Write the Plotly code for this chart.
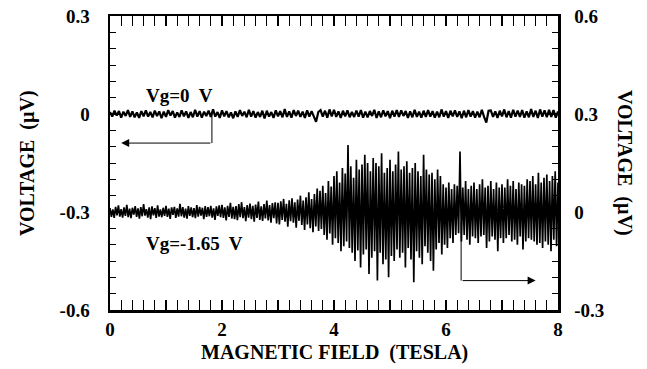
import numpy as np
import plotly.graph_objects as go

# ---------------- data ----------------
field_min_T = 0.0
field_max_T = 8.0

# Vg = 0 V trace, left axis, values in nV (step 0.04 T)
vg0_nV = [
    6, -8, 10, -5, 9, -11, 7, -6, 12, -9,
    8, -10, 5, -12, 9, -7, 11, -8, 6, -10,
    10, -6, 8, -13, 7, -9, 12, -5, 9, -11,
    5, -9, 11, -7, 8, -12, 6, -10, 13, -8,
    9, -11, 7, -6, 10, -9, 14, -8, 6, -12,
    11, -7, 9, -10, 5, -13, 8, -9, 12, -6,
    7, -10, 13, -8, 9, -11, 6, -9, 10, -14,
    10, -8, 6, -12, 11, -7, 9, -10, 15, -9,
    8, -11, 12, -6, 10, -9, 7, -12, 11, -8,
    9, -10, -24, 6, 12, -8, 10, -11, 14, -7,
    13, -9, 8, -12, 10, -7, 11, -10, 6, -9,
    10, -8, 12, -11, 7, -10, 9, -6, 13, -12,
    8, -10, 11, -7, 9, -13, 10, -8, 12, -9,
    11, -6, 9, -12, 8, -10, 13, -9, 7, -11,
    10, -9, 12, -8, 9, -11, 7, -10, 14, -8,
    9, -12, 10, -7, 11, -9, 8, -13, 10, -10,
    12, -8, 9, -11, 7, -10, 13, -9, -26, 10,
    11, -9, 8, -12, 10, -7, 14, -10, 9, -11,
    13, -8, 10, -9, 12, -11, 8, -10, 15, -9,
    10, -12, 14, -8, 11, -10, 13, -9, 12, -11,
    8,
]

# Vg = -1.65 V trace, right axis, values in nV (step 0.025 T)
vg165_nV = [
    12, -15, 8, -18, 16, -10, 20, -14, 9, -17,
    14, -12, 22, -16, 10, -19, 13, -8, 18, -15,
    11, -20, 15, -13, 24, -11, 9, -17, 14, -22,
    17, -10, 12, -18, 20, -14, 8, -16, 13, -12,
    19, -15, 10, -21, 14, -9, 16, -18, 11, -14,
    25, -13, 15, -17, 10, -20, 18, -12, 14, -16,
    12, -19, 21, -14, 16, -11, 13, -22, 18, -15,
    15, -13, 19, -17, 11, -24, 17, -12, 20, -16,
    22, -18, 14, -26, 19, -15, 28, -20, 16, -22,
    18, -25, 24, -16, 30, -19, 15, -28, 21, -17,
    26, -22, 19, -30, 23, -18, 32, -24, 17, -27,
    24, -20, 35, -26, 21, -33, 27, -19, 30, -35,
    28, -38, 33, -24, 40, -30, 25, -45, 36, -28,
    42, -33, 30, -48, 38, -27, 50, -40, 35, -55,
    45, -38, 60, -50, 40, -62, 55, -44, 72, -58,
    65, -52, 80, -70, 58, -85, 95, -66, 78, -100,
    110, -80, 125, -95, 90, -120, 135, -105, 118, -90,
    205, -110, 140, -125, 105, -150, 160, -118, 130, -170,
    145, -130, 175, -115, 150, -190, 125, -140, 165, -120,
    150, -210, 140, -125, 180, -160, 120, -145, 135, -200,
    160, -135, 125, -150, 145, -115, 185, -140, 130, -125,
    140, -170, 155, -110, 120, -145, 135, -215, 150, -120,
    125, -140, 110, -160, 175, -105, 130, -125, 115, -150,
    120, -180, 100, -115, 130, -95, 110, -130, 85, -100,
    75, -110, 90, -80, 70, -95, 85, -70, 80, -65,
    185, -90, 75, -70, 95, -85, 70, -100, 80, -75,
    90, -80, 70, -95, 85, -75, 100, -70, 75, -110,
    80, -90, 95, -75, 70, -85, 90, -120, 75, -80,
    85, -95, 75, -80, 100, -70, 80, -90, 95, -85,
    70, -100, 90, -75, 85, -115, 80, -90, 100, -80,
    95, -85, 110, -90, 85, -100, 120, -95, 90, -110,
    105, -90, 115, -100, 95, -120, 110, -85, 125, -105,
    90,
]

x_tick_vals = [0, 1, 2, 3, 4, 5, 6, 7, 8]
x_tick_text = ["0", "", "2", "", "4", "", "6", "", "8"]
left_tick_vals = [-0.6, -0.3, 0, 0.3]
left_tick_text = ["-0.6", "-0.3", "0", "0.3"]
right_tick_vals = [-0.3, 0, 0.3, 0.6]
right_tick_text = ["-0.3", "0", "0.3", "0.6"]

label_vg0 = "Vg=0  V"
label_vg165 = "Vg=-1.65  V"
x_title = "MAGNETIC FIELD  (TESLA)"
y_title = "VOLTAGE  (µV)"

# ---------------- figure ----------------
x0 = np.linspace(field_min_T, field_max_T, len(vg0_nV))
x1 = np.linspace(field_min_T, field_max_T, len(vg165_nV))
y0 = np.array(vg0_nV) / 1000.0
y1 = np.array(vg165_nV) / 1000.0

FONT = "Liberation Serif, Times New Roman, serif"

fig = go.Figure()
fig.add_trace(go.Scatter(x=x0, y=y0, mode="lines",
                         line=dict(color="black", width=2.2),
                         yaxis="y", showlegend=False))
fig.add_trace(go.Scatter(x=x1, y=y1, mode="lines",
                         line=dict(color="black", width=1.7),
                         yaxis="y2", showlegend=False))

axis_font = dict(family=FONT, size=19, color="black", weight="bold")

fig.update_layout(
    width=647, height=369,
    margin=dict(l=110, r=89, t=16, b=59),
    paper_bgcolor="white", plot_bgcolor="white",
    xaxis=dict(range=[0, 8], showline=True, linewidth=2.5, linecolor="black",
               mirror="allticks", ticks="inside", ticklen=10, tickwidth=1.2,
               tickcolor="black", tickvals=x_tick_vals, ticktext=x_tick_text,
               minor=dict(ticks="inside", ticklen=5, dtick=0.2, tickcolor="black", tickwidth=1),
               showgrid=False, zeroline=False, tickfont=axis_font,
               ticklabelstandoff=1, automargin=False),
    yaxis=dict(range=[-0.6, 0.3], showline=True, linewidth=2.5, linecolor="black",
               ticks="inside", ticklen=10, tickwidth=1.2, tickcolor="black",
               tickvals=left_tick_vals, ticktext=left_tick_text,
               minor=dict(ticks="inside", ticklen=6, dtick=0.05, tickcolor="black", tickwidth=1),
               showgrid=False, zeroline=False, tickfont=axis_font,
               ticklabelstandoff=14, automargin=False),
    yaxis2=dict(range=[-0.3, 0.6], overlaying="y", side="right", showline=True,
                linewidth=2.5, linecolor="black",
                ticks="inside", ticklen=10, tickwidth=1.2, tickcolor="black",
                tickvals=right_tick_vals, ticktext=right_tick_text,
                minor=dict(ticks="inside", ticklen=6, dtick=0.05, tickcolor="black", tickwidth=1),
                showgrid=False, zeroline=False, tickfont=axis_font,
                ticklabelstandoff=10, automargin=False),
)

title_font = dict(family=FONT, size=20, color="black", weight="bold")
label_font = dict(family=FONT, size=19, color="black", weight="bold")

annotations = [
    dict(text=x_title, xref="paper", yref="paper", x=0.5, y=0, yshift=-42,
         showarrow=False, font=title_font, xanchor="center", yanchor="middle"),
    dict(text=y_title, xref="paper", yref="paper", x=0, xshift=-83, y=0.5,
         showarrow=False, font=title_font, textangle=-90,
         xanchor="center", yanchor="middle"),
    dict(text=y_title, xref="paper", yref="paper", x=1, xshift=67, y=0.5,
         showarrow=False, font=title_font, textangle=90,
         xanchor="center", yanchor="middle"),
    dict(text=label_vg0, xref="x", yref="y", x=0.6, y=0.057, xanchor="left",
         yanchor="middle", showarrow=False, font=label_font),
    dict(text=label_vg165, xref="x", yref="y", x=0.6, y=-0.396, xanchor="left",
         yanchor="middle", showarrow=False, font=label_font),
    # left-pointing arrow for Vg=0 trace
    dict(x=0.2, y=-0.089, ax=1.82, ay=-0.089, xref="x", yref="y",
         axref="x", ayref="y", text="", showarrow=True, arrowhead=2,
         arrowsize=1.6, arrowwidth=1, arrowcolor="black"),
    # right-pointing arrow for Vg=-1.65 trace
    dict(x=7.6, y=-0.21, ax=6.27, ay=-0.21, xref="x", yref="y2",
         axref="x", ayref="y2", text="", showarrow=True, arrowhead=2,
         arrowsize=1.6, arrowwidth=1, arrowcolor="black"),
]
fig.update_layout(annotations=annotations)

fig.add_shape(type="line", xref="x", yref="y", x0=1.82, x1=1.82, y0=0.0, y1=-0.089,
              line=dict(color="black", width=1))
fig.add_shape(type="line", xref="x", yref="y2", x0=6.27, x1=6.27, y0=-0.03, y1=-0.21,
              line=dict(color="black", width=1))

# remove the default 8px page margin so the figure sits at the window's corner
fig.write_html("out.html",
               config={"displayModeBar": False, "staticPlot": True},
               post_script="document.body.style.margin='0';document.body.style.overflow='hidden';")
